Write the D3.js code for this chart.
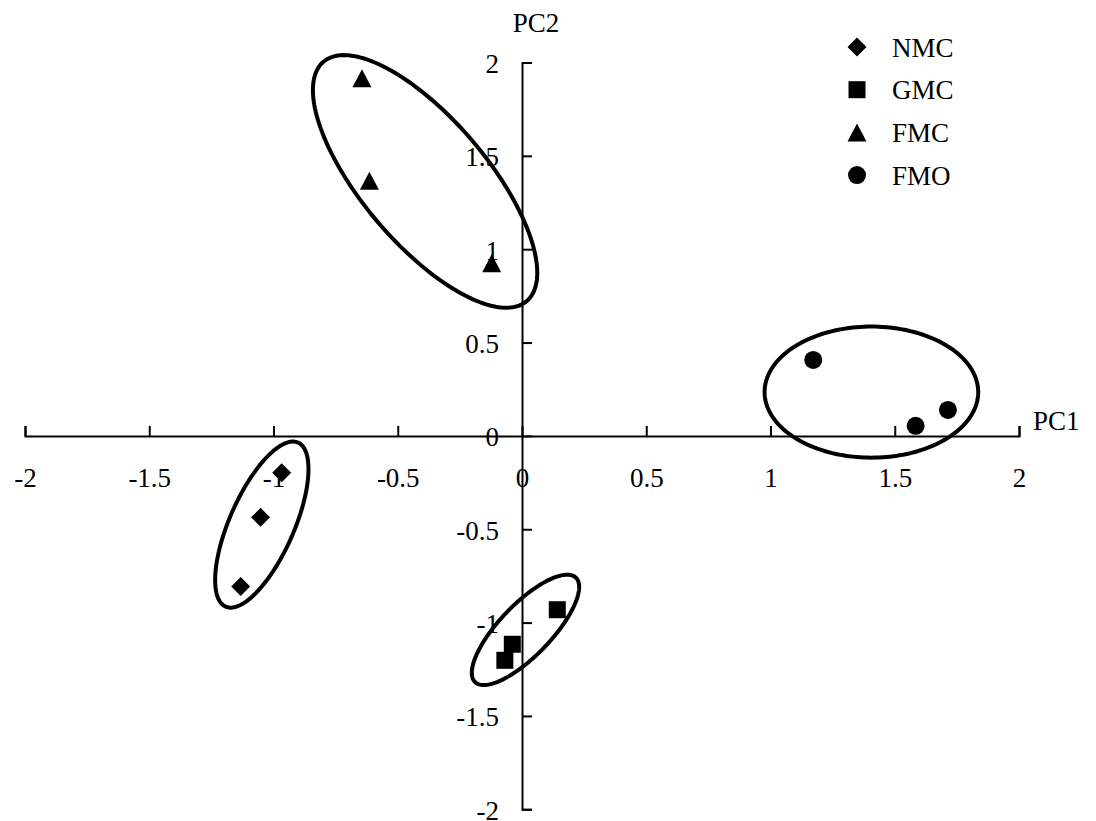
<!DOCTYPE html>
<html>
<head>
<meta charset="utf-8">
<script src="https://cdn.jsdelivr.net/npm/d3@7"></script>
<style>
  body { margin: 0; background: #fff; }
  svg text { font-family: "Times New Roman", "Liberation Serif", serif; font-size: 27px; fill: #000; }
</style>
</head>
<body>
<svg id="chart" width="1096" height="821"></svg>
<script>
// Scores on the first two principal components.
var seriesNames = ["NMC", "GMC", "FMC", "FMO"];
var nmcScores = [[-0.967, -0.197], [-1.052, -0.436], [-1.132, -0.807]];
var gmcScores = [[0.142, -0.931], [-0.039, -1.116], [-0.069, -1.202]];
var fmcScores = [[-0.644, 1.916], [-0.614, 1.367], [-0.122, 0.925]];
var fmoScores = [[1.172, 0.407], [1.584, 0.054], [1.714, 0.139]];

var xTicks = [-2, -1.5, -1, -0.5, 0, 0.5, 1, 1.5, 2];
var yTicks = [-2, -1.5, -1, -0.5, 0, 0.5, 1, 1.5, 2];

// Cluster ellipses in data units: centre plus two conjugate semi-axis vectors.
var clusterEllipses = [
  { name: "NMC", cx: -1.047, cy: -0.475, ux: 0.1456, uy: 0.4394, vx: 0.1186, vy: -0.0697 },
  { name: "GMC", cx: 0.014, cy: -1.039, ux: 0.2028, uy: 0.2797, vx: 0.0744, vy: -0.0957 },
  { name: "FMC", cx: -0.390, cy: 1.363, ux: 0.409, uy: -0.641, vx: -0.191, vy: -0.2165 },
  { name: "FMO", cx: 1.406, cy: 0.2346, ux: 0.4298, uy: 0, vx: 0, vy: 0.351 }
];

var svg = d3.select("#chart");

var x = d3.scaleLinear().domain([-2, 2]).range([25, 1019]);
var y = d3.scaleLinear().domain([-2, 2]).range([809.3, 62.5]);

// Marker shapes, centred on their bounding box like the spreadsheet markers.
var markerPath = {
  NMC: "M0,-9.5L9.5,0L0,9.5L-9.5,0Z",
  GMC: "M-8.5,-8.5H8.5V8.5H-8.5Z",
  FMC: "M0,-9L9.5,9L-9.5,9Z",
  FMO: "M9,0A9,9 0 1,1 -9,0A9,9 0 1,1 9,0Z"
};

// x axis: ticks pointing up, labels below
var xAxis = svg.append("g")
    .attr("transform", "translate(0," + y(0) + ")")
    .call(d3.axisBottom(x)
        .tickValues(xTicks)
        .tickFormat(function (d) { return String(d); })
        .tickSizeInner(-10)
        .tickSizeOuter(-10)
        .tickPadding(32));

// y axis: ticks pointing right, labels on the left
var yAxis = svg.append("g")
    .attr("transform", "translate(" + x(0) + ",0)")
    .call(d3.axisLeft(y)
        .tickValues(yTicks)
        .tickFormat(function (d) { return String(d); })
        .tickSizeInner(-10)
        .tickSizeOuter(-10)
        .tickPadding(23));

svg.selectAll(".domain, .tick line")
    .attr("stroke", "#000")
    .attr("stroke-width", 2);
svg.selectAll(".tick text")
    .attr("font-family", null)
    .attr("font-size", null)
    .attr("fill", "#000");
yAxis.selectAll(".tick text").attr("dy", "0.37em");

svg.append("text")
    .attr("x", 1033)
    .attr("y", 430)
    .text("PC1");

svg.append("text")
    .attr("x", 536)
    .attr("y", 32)
    .attr("text-anchor", "middle")
    .text("PC2");

// Ellipses around each group
var line = d3.line()
    .x(function (p) { return x(p[0]); })
    .y(function (p) { return y(p[1]); })
    .curve(d3.curveLinearClosed);

svg.selectAll(".cluster")
    .data(clusterEllipses)
    .enter()
    .append("path")
    .attr("class", "cluster")
    .attr("fill", "none")
    .attr("stroke", "#000")
    .attr("stroke-width", 4)
    .attr("d", function (e) {
        var pts = d3.range(0, 180).map(function (i) {
            var t = i / 180 * 2 * Math.PI;
            return [e.cx + Math.cos(t) * e.ux + Math.sin(t) * e.vx,
                    e.cy + Math.cos(t) * e.uy + Math.sin(t) * e.vy];
        });
        return line(pts);
    });

// Points
var allSeries = [nmcScores, gmcScores, fmcScores, fmoScores];
allSeries.forEach(function (scores, i) {
    svg.append("g")
        .selectAll("path")
        .data(scores)
        .enter()
        .append("path")
        .attr("d", markerPath[seriesNames[i]])
        .attr("fill", "#000")
        .attr("transform", function (d) {
            return "translate(" + x(d[0]) + "," + y(d[1]) + ")";
        });
});

// Legend
var legend = svg.append("g")
    .selectAll("g")
    .data(seriesNames)
    .enter()
    .append("g")
    .attr("transform", function (d, i) {
        return "translate(857," + (47 + i * 42.7) + ")";
    });

legend.append("path")
    .attr("d", function (d) { return markerPath[d]; })
    .attr("fill", "#000");

legend.append("text")
    .attr("x", 35)
    .attr("y", 9.5)
    .text(function (d) { return d; });
</script>
</body>
</html>
